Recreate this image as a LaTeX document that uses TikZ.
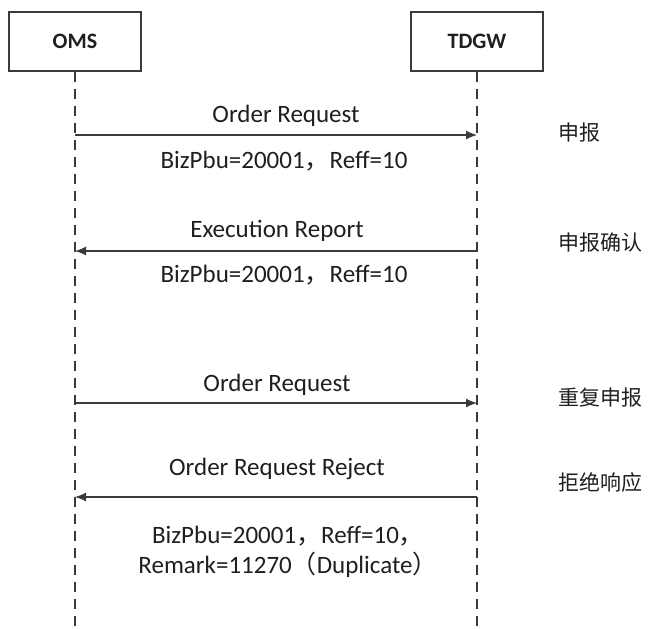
\documentclass[tikz,border=0pt]{standalone}
\usepackage{fontspec}
\setmainfont{Carlito}
\newfontfamily\cjk{Noto Sans CJK SC}
\usetikzlibrary{arrows.meta}

\definecolor{LineGray}{HTML}{3a3a3a}
\definecolor{TextBlack}{HTML}{1f1f1f}
\tikzstyle{actor-box}=[draw=LineGray, line width=0.7pt, fill=white, minimum width=66pt, minimum height=29.5pt, text=TextBlack, font=\fontsize{11}{13}\selectfont\bfseries]
\tikzstyle{lifeline}=[draw=LineGray, line width=0.6pt, dash pattern=on 5pt off 3.5pt]
\tikzstyle{message}=[draw=LineGray, line width=0.6pt, -{Latex[length=5.5pt,width=4.5pt]}]
\tikzstyle{msg-label}=[anchor=base, inner sep=0pt, align=center, text=TextBlack, font=\fontsize{12.5}{15}\selectfont]
\tikzstyle{step-label}=[anchor=west, inner sep=0pt, text=TextBlack, font=\cjk\fontsize{10.5}{12}\selectfont]

\begin{document}
\begin{tikzpicture}[x=0.5pt, y=-0.5pt]
      \useasboundingbox (0,0) rectangle (649,628);

      % actors and their lifelines
      \node (actor-oms) at (75,41.5) [actor-box] {OMS};
      \node (actor-tdgw) at (477,41.5) [actor-box] {TDGW};
      \coordinate (end-oms) at (75,628);
      \coordinate (end-tdgw) at (477,628);
      \draw[lifeline] (actor-oms.south) -- (end-oms);
      \draw[lifeline] (actor-tdgw.south) -- (end-tdgw);

      % message ends on the lifelines
      \coordinate (oms-1) at (75,135);
      \coordinate (tdgw-1) at (477,135);
      \coordinate (oms-2) at (75,251);
      \coordinate (tdgw-2) at (477,251);
      \coordinate (oms-3) at (75,403);
      \coordinate (tdgw-3) at (477,403);
      \coordinate (oms-4) at (75,497);
      \coordinate (tdgw-4) at (477,497);

      \draw[message] (oms-1) -- (tdgw-1);
      \draw[message] (tdgw-2) -- (oms-2);
      \draw[message] (oms-3) -- (tdgw-3);
      \draw[message] (tdgw-4) -- (oms-4);

      % message labels (two-line label sits on its last baseline)
      \node (label-request) at (286,122) [msg-label] {Order Request};
      \node (label-request-data) at (284,168) [msg-label] {BizPbu=20001{\cjk ，}Reff=10};
      \node (label-report) at (277,237) [msg-label] {Execution Report};
      \node (label-report-data) at (284,282) [msg-label] {BizPbu=20001{\cjk ，}Reff=10};
      \node (label-resend) at (277,391) [msg-label] {Order Request};
      \node (label-reject) at (277,475) [msg-label] {Order Request Reject};
      \node (label-reject-data) at (288,573) [msg-label] {BizPbu=20001{\cjk ，}Reff=10{\cjk ，}\\Remark=11270{\cjk （}Duplicate{\cjk ）}};

      % steps on the right
      \node (step-submit) at (558,133) [step-label] {申报};
      \node (step-confirm) at (558,243) [step-label] {申报确认};
      \node (step-resubmit) at (558,398) [step-label] {重复申报};
      \node (step-refuse) at (558,482) [step-label] {拒绝响应};
\end{tikzpicture}
\end{document}
